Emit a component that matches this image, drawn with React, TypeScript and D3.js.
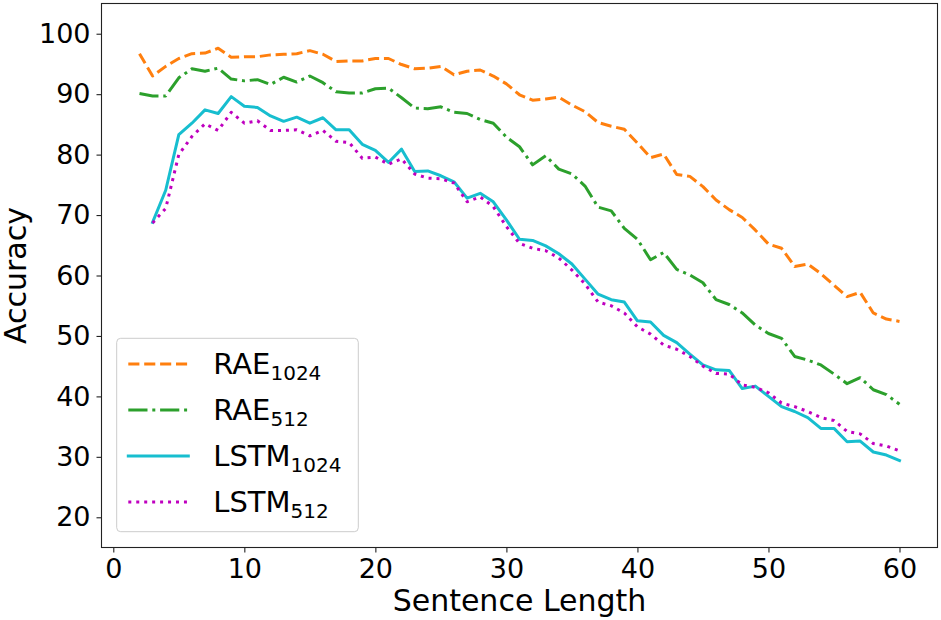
import { useEffect, useRef } from 'react'
import * as d3 from 'd3'

// sentence lengths
const raeLengths = d3.range(2, 61)
const lstmLengths = d3.range(3, 61)

const rae1024 = [
  96.7, 93.0, 94.6, 95.9, 96.7, 96.8, 97.6, 96.1, 96.2, 96.2, 96.5, 96.6, 96.7, 97.2, 96.6,
  95.4, 95.5, 95.5, 95.9, 95.9, 94.9, 94.2, 94.3, 94.6, 93.2, 93.8, 94.0, 93.0, 91.7, 89.9,
  89.0, 89.2, 89.5, 88.2, 87.1, 85.3, 84.7, 84.2, 81.9, 79.5, 80.1, 76.7, 76.4, 74.7, 72.5,
  70.9, 69.6, 67.5, 65.2, 64.5, 61.5, 61.9, 60.3, 58.4, 56.5, 57.2, 53.8, 52.8, 52.4,
]

const rae512 = [
  90.1, 89.7, 89.7, 92.7, 94.2, 93.8, 94.3, 92.5, 92.2, 92.4, 91.6, 92.8, 92.0, 93.0, 91.9,
  90.4, 90.2, 90.2, 90.9, 91.0, 89.4, 87.7, 87.6, 87.9, 87.0, 86.8, 85.8, 85.2, 82.9, 81.3,
  78.3, 79.8, 77.6, 76.8, 74.8, 71.3, 70.7, 67.8, 66.0, 62.6, 63.8, 61.0, 60.1, 58.8, 56.0,
  55.2, 53.8, 51.8, 50.4, 49.6, 46.6, 46.0, 45.2, 43.7, 42.1, 43.1, 41.1, 40.3, 38.7,
]

const lstm1024 = [
  68.8, 74.1, 83.3, 85.2, 87.4, 86.8, 89.6, 88.0, 87.8, 86.4, 85.5, 86.2, 85.2, 86.1,
  84.1, 84.1, 81.7, 80.7, 78.7, 80.9, 77.2, 77.3, 76.5, 75.5, 72.8, 73.6, 72.2, 69.2, 66.0,
  65.8, 64.9, 63.6, 61.9, 59.4, 56.9, 56.0, 55.6, 52.5, 52.3, 50.1, 48.9, 47.0, 45.2, 44.4,
  44.3, 41.3, 41.7, 40.0, 38.3, 37.5, 36.5, 34.7, 34.7, 32.5, 32.6, 30.8, 30.3, 29.4,
]

const lstm512 = [
  68.7, 71.1, 80.0, 83.0, 85.1, 84.0, 87.0, 85.2, 85.6, 84.0, 84.0, 84.1, 83.1, 84.0,
  82.2, 82.0, 79.4, 79.6, 78.4, 79.3, 76.8, 76.1, 76.0, 75.3, 72.2, 73.0, 71.4, 68.1, 65.3,
  64.5, 64.1, 62.9, 60.9, 58.6, 55.6, 55.0, 53.8, 51.5, 50.3, 48.5, 47.8, 46.6, 45.0, 43.8,
  43.7, 41.9, 41.5, 40.6, 38.9, 38.3, 37.5, 36.5, 36.0, 34.2, 33.8, 32.2, 31.8, 31.0,
]

const xTicks = [0, 10, 20, 30, 40, 50, 60]
const yTicks = [20, 30, 40, 50, 60, 70, 80, 90, 100]

const seriesList = [
  { name: 'RAE', sub: '1024', xs: raeLengths, ys: rae1024, color: '#ff7f0e', dash: '11.1,4.8' },
  { name: 'RAE', sub: '512', xs: raeLengths, ys: rae512, color: '#2ca02c', dash: '19.2,4.8,3,4.8' },
  { name: 'LSTM', sub: '1024', xs: lstmLengths, ys: lstm1024, color: '#17becf', dash: null },
  { name: 'LSTM', sub: '512', xs: lstmLengths, ys: lstm512, color: '#bf00bf', dash: '3,4.95' },
]

const FONT = '"DejaVu Sans", sans-serif'

export default function App() {
  const svgRef = useRef<SVGSVGElement>(null)

  useEffect(() => {
    if (!svgRef.current) return
    const width = 941
    const height = 620
    const margin = { top: 3.5, right: 3.5, bottom: 72.5, left: 101.5 }
    const chartWidth = width - margin.left - margin.right
    const chartHeight = height - margin.top - margin.bottom

    const svg = d3.select(svgRef.current)
    svg.selectAll('*').remove()
    svg.attr('width', width).attr('height', height)

    svg.append('rect').attr('width', width).attr('height', height).attr('fill', '#fff')

    const g = svg.append('g').attr('transform', `translate(${margin.left},${margin.top})`)

    const xScale = d3.scaleLinear().domain([-0.9, 62.9]).range([0, chartWidth])
    const yScale = d3.scaleLinear().domain([15, 105]).range([chartHeight, 0])

    // 선
    const line = d3
      .line<[number, number]>()
      .x(d => xScale(d[0]))
      .y(d => yScale(d[1]))

    seriesList.forEach(s => {
      const pts = s.xs.map((x, i) => [x, s.ys[i]] as [number, number])
      g.append('path')
        .attr('d', line(pts))
        .attr('fill', 'none')
        .attr('stroke', s.color)
        .attr('stroke-width', 3)
        .attr('stroke-dasharray', s.dash)
        .attr('stroke-linecap', s.dash ? 'butt' : 'square')
        .attr('stroke-linejoin', 'round')
    })

    // 축
    const xAxis = g
      .append('g')
      .attr('transform', `translate(0,${chartHeight})`)
      .call(d3.axisBottom(xScale).tickValues(xTicks).tickSize(5).tickPadding(6))
    const yAxis = g
      .append('g')
      .call(d3.axisLeft(yScale).tickValues(yTicks).tickSize(5).tickPadding(6))
    ;[xAxis, yAxis].forEach(ax => {
      ax.select('.domain').remove()
      ax.selectAll('line').attr('stroke', '#222').attr('stroke-width', 1.1)
      ax.selectAll('text')
        .style('font-family', FONT)
        .style('font-size', '27px')
        .attr('fill', '#000')
    })

    g.append('rect')
      .attr('width', chartWidth)
      .attr('height', chartHeight)
      .attr('fill', 'none')
      .attr('stroke', '#222')
      .attr('stroke-width', 1.1)

    // 축 제목
    svg
      .append('text')
      .attr('x', margin.left + chartWidth / 2)
      .attr('y', 611)
      .attr('text-anchor', 'middle')
      .style('font-family', FONT)
      .style('font-size', '30px')
      .text('Sentence Length')

    svg
      .append('text')
      .attr('transform', `translate(26,${margin.top + chartHeight / 2}) rotate(-90)`)
      .attr('text-anchor', 'middle')
      .style('font-family', FONT)
      .style('font-size', '30px')
      .text('Accuracy')

    // 범례
    const legend = svg.append('g').attr('transform', 'translate(116.7,338.3)')
    legend
      .append('rect')
      .attr('width', 241.6)
      .attr('height', 193.4)
      .attr('rx', 4)
      .attr('fill', '#fff')
      .attr('fill-opacity', 0.8)
      .attr('stroke', '#ccc')
      .attr('stroke-width', 1)

    seriesList.forEach((s, i) => {
      const cy = 25.7 + i * 46
      legend
        .append('line')
        .attr('x1', 11.6)
        .attr('x2', 71.6)
        .attr('y1', cy)
        .attr('y2', cy)
        .attr('stroke', s.color)
        .attr('stroke-width', 3)
        .attr('stroke-dasharray', s.dash)
        .attr('stroke-linecap', s.dash ? 'butt' : 'square')
      const t = legend
        .append('text')
        .attr('x', 96.6)
        .attr('y', cy + 10.5)
        .style('font-family', FONT)
        .style('font-size', '29px')
      t.append('tspan').text(s.name)
      t.append('tspan').attr('dy', 6).style('font-size', '20px').text(s.sub)
    })
  }, [])

  return (
    <div style={{ position: 'absolute', left: 0, top: 0 }}>
      <svg ref={svgRef}></svg>
    </div>
  )
}
